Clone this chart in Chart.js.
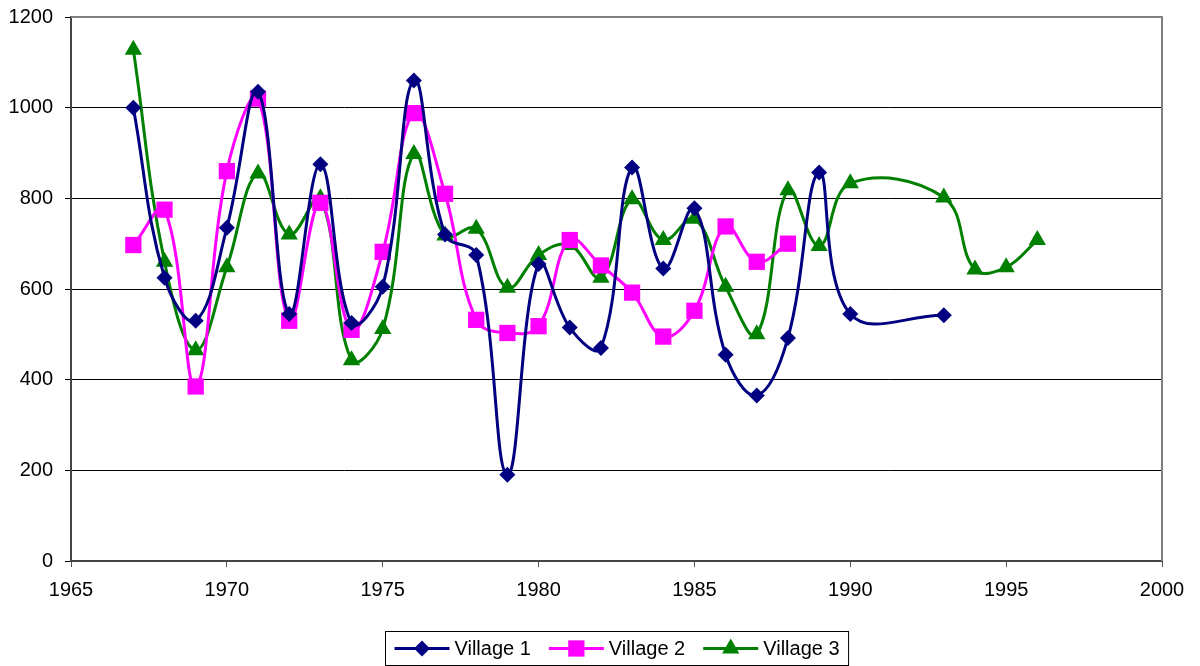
<!DOCTYPE html>
<html>
<head>
<meta charset="utf-8">
<script src="https://cdn.jsdelivr.net/npm/chart.js@4.4.1/dist/chart.umd.min.js"></script>
<style>
    html, body { margin: 0; padding: 0; background: #fff; }
    #wrap { width: 1200px; height: 666px; }
</style>
</head>
<body>
<div id="wrap"><canvas id="chart1"></canvas></div>
<script>
// values
const years1 = [1967, 1968, 1969, 1970, 1971, 1972, 1973, 1974, 1975, 1976, 1977, 1978, 1979, 1980, 1981, 1982, 1983, 1984, 1985, 1986, 1987, 1988, 1989, 1990, 1993];
const village1 = [1000, 625, 530, 735, 1035, 545, 875, 525, 605, 1060, 720, 675, 190, 655, 515, 470, 868, 645, 778, 455, 365, 492, 857, 545, 542];

const years2 = [1967, 1968, 1969, 1970, 1971, 1972, 1973, 1974, 1975, 1976, 1977, 1978, 1979, 1980, 1981, 1982, 1983, 1984, 1985, 1986, 1987, 1988];
const village2 = [697, 775, 385, 860, 1020, 530, 790, 510, 682, 988, 810, 532, 503, 518, 708, 652, 592, 495, 552, 738, 660, 700];

const years3 = [1967, 1968, 1969, 1970, 1971, 1972, 1973, 1974, 1975, 1976, 1977, 1978, 1979, 1980, 1981, 1982, 1983, 1984, 1985, 1986, 1987, 1988, 1989, 1990, 1993, 1994, 1995, 1996];
const village3 = [1128, 660, 465, 648, 855, 720, 800, 443, 512, 898, 718, 733, 603, 675, 697, 625, 798, 708, 755, 605, 500, 818, 695, 833, 802, 643, 648, 708];

const seriesNames = ['Village 1', 'Village 2', 'Village 3'];
const seriesColors = ['#000080', '#FF00FF', '#008000'];
const seriesMarkers = ['rectRot', 'rect', 'triangle'];
const markerSizes = [8, 11.5, 10];

function toPoints(xs, ys) {
    let pts = [];
    for (let i = 0; i < xs.length; i++) {
        pts.push({ x: xs[i], y: ys[i] });
    }
    return pts;
}

function makeSet(i, pts) {
    return {
        label: seriesNames[i],
        data: pts,
        borderColor: seriesColors[i],
        backgroundColor: seriesColors[i],
        borderWidth: 3,
        pointStyle: seriesMarkers[i],
        pointRadius: markerSizes[i],
        pointBorderWidth: 0,
        pointBackgroundColor: seriesColors[i],
        tension: 0.4,
        fill: false
    };
}

// gray frame on top/right and the boxed legend at the bottom
const frameAndLegend = {
    id: 'frameAndLegend',
    beforeDatasetsDraw(chart) {
        const ctx = chart.ctx;
        const a = chart.chartArea;
        ctx.save();
        ctx.strokeStyle = '#808080';
        ctx.lineWidth = 2;
        ctx.beginPath();
        ctx.moveTo(a.left, a.top);
        ctx.lineTo(a.right, a.top);
        ctx.lineTo(a.right, a.bottom);
        ctx.stroke();
        ctx.restore();
    },
    afterDraw(chart) {
        const ctx = chart.ctx;
        const a = chart.chartArea;
        ctx.save();
        ctx.font = '20px "Liberation Sans", Arial, sans-serif';
        const lineLen = 55, gap = 5, itemGap = 18, padX = 9;
        let widths = seriesNames.map(n => lineLen + gap + ctx.measureText(n).width);
        let total = widths.reduce((s, w) => s + w, 0) + itemGap * (widths.length - 1) + padX * 2;
        const cx = (a.left + a.right) / 2;
        const boxLeft = Math.round(cx - total / 2) + 0.5;
        const boxTop = 631.5, boxH = 34;
        ctx.fillStyle = '#fff';
        ctx.fillRect(boxLeft, boxTop, total, boxH);
        ctx.strokeStyle = '#000';
        ctx.lineWidth = 1;
        ctx.strokeRect(boxLeft, boxTop, total, boxH);
        const midY = boxTop + boxH / 2;
        let x = boxLeft + padX;
        for (let i = 0; i < seriesNames.length; i++) {
            ctx.strokeStyle = seriesColors[i];
            ctx.lineWidth = 3;
            ctx.beginPath();
            ctx.moveTo(x, midY);
            ctx.lineTo(x + lineLen, midY);
            ctx.stroke();
            ctx.fillStyle = seriesColors[i];
            Chart.helpers.drawPoint(ctx, {
                pointStyle: seriesMarkers[i],
                radius: markerSizes[i],
                borderWidth: 0
            }, x + lineLen / 2, midY);
            ctx.fillStyle = '#000';
            ctx.textBaseline = 'middle';
            ctx.textAlign = 'left';
            ctx.fillText(seriesNames[i], x + lineLen + gap, midY + 1);
            x += widths[i] + itemGap;
        }
        ctx.restore();
    }
};

const tickFont = { family: '"Liberation Sans", Arial, sans-serif', size: 20 };

const ctx = document.getElementById('chart1').getContext('2d');
const chart = new Chart(ctx, {
    type: 'line',
    data: {
        datasets: [
            makeSet(0, toPoints(years1, village1)),
            makeSet(1, toPoints(years2, village2)),
            makeSet(2, toPoints(years3, village3))
        ]
    },
    options: {
        responsive: true,
        maintainAspectRatio: false,
        animation: false,
        layout: { padding: { top: 17, right: 38, bottom: 56, left: 0 } },
        plugins: {
            legend: { display: false },
            tooltip: { enabled: false }
        },
        scales: {
            x: {
                type: 'linear',
                min: 1965,
                max: 2000,
                ticks: {
                    stepSize: 5,
                    color: '#000',
                    font: tickFont,
                    padding: 11,
                    maxRotation: 0,
                    callback: v => String(v)
                },
                grid: {
                    drawOnChartArea: false,
                    drawTicks: true,
                    tickLength: 6,
                    color: '#555'
                },
                border: { color: '#444', width: 2 },
                afterFit: function(scale) {
                    scale.height = 49;
                    scale.paddingLeft = 0;
                    scale.paddingRight = 0;
                }
            },
            y: {
                min: 0,
                max: 1200,
                ticks: {
                    stepSize: 200,
                    color: '#000',
                    font: tickFont,
                    padding: 12,
                    callback: v => String(v)
                },
                grid: {
                    color: '#000',
                    lineWidth: 1,
                    tickLength: 6
                },
                border: { color: '#444', width: 2 },
                afterFit: function(scale) {
                    scale.width = 71;
                    scale.paddingTop = 0;
                    scale.paddingBottom = 0;
                }
            }
        }
    },
    plugins: [frameAndLegend]
});
</script>
</body>
</html>
